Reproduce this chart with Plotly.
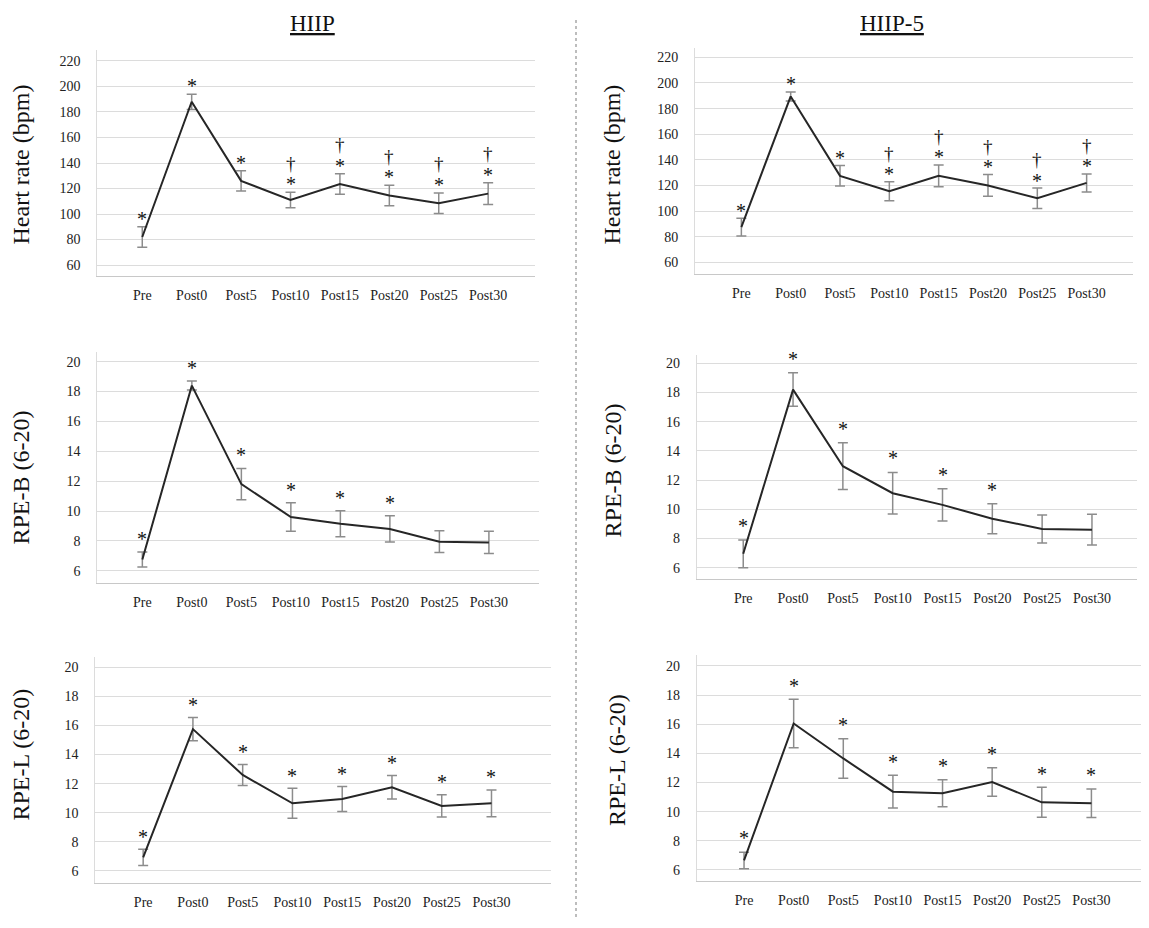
import plotly.graph_objects as go

# ---------------- data ----------------
categories = ["Pre", "Post0", "Post5", "Post10", "Post15", "Post20", "Post25", "Post30"]

hr_ticks = [60, 80, 100, 120, 140, 160, 180, 200, 220]
rpe_ticks = [6, 8, 10, 12, 14, 16, 18, 20]

hr_hiip_mean = [82, 188, 126, 111, 123.5, 114.5, 108.5, 116]
hr_hiip_sd = [8, 6, 8, 6, 8, 8, 8, 8.5]
hr_hiip5_mean = [87.5, 189.5, 127.5, 115.5, 127.5, 120, 110, 122]
hr_hiip5_sd = [7, 3.5, 8, 7.5, 8.5, 8.5, 8, 7]

rpeb_hiip_mean = [6.75, 18.4, 11.8, 9.6, 9.15, 8.8, 7.95, 7.9]
rpeb_hiip_sd = [0.5, 0.3, 1.05, 0.95, 0.87, 0.88, 0.73, 0.74]
rpeb_hiip5_mean = [6.95, 18.2, 12.95, 11.1, 10.3, 9.35, 8.65, 8.6]
rpeb_hiip5_sd = [0.95, 1.15, 1.6, 1.42, 1.1, 1.03, 0.96, 1.05]

rpel_hiip_mean = [6.93, 15.75, 12.6, 10.65, 10.95, 11.75, 10.47, 10.65]
rpel_hiip_sd = [0.56, 0.8, 0.72, 1.03, 0.86, 0.81, 0.77, 0.92]
rpel_hiip5_mean = [6.65, 16.05, 13.65, 11.37, 11.26, 12.03, 10.64, 10.58]
rpel_hiip5_sd = [0.57, 1.66, 1.36, 1.12, 0.92, 0.98, 1.03, 0.98]

# significance flags (* vs baseline, † second marker)
hr_star = [1, 1, 1, 1, 1, 1, 1, 1]
hr_dagger = [0, 0, 0, 1, 1, 1, 1, 1]
rpeb_star = [1, 1, 1, 1, 1, 1, 0, 0]
rpeb_dagger = [0, 0, 0, 0, 0, 0, 0, 0]
rpel_star = [1, 1, 1, 1, 1, 1, 1, 1]
rpel_dagger = [0, 0, 0, 0, 0, 0, 0, 0]

col_titles = ["HIIP", "HIIP-5"]
row_titles = ["Heart rate (bpm)", "RPE-B (6-20)", "RPE-L (6-20)"]

# ---------------- layout geometry (pixels in the page) ----------------
W, H = 1149, 928
OFF = 8  # page body margin
FONT = "Liberation Serif, Times New Roman, serif"


def fx(px):
    return (px - OFF) / W


def fy(py):
    return 1 - (py - OFF) / H


panels = [
    dict(mean=hr_hiip_mean, sd=hr_hiip_sd, star=hr_star, dag=hr_dagger, ticks=hr_ticks,
         px=(97.3, 534.6), py=(50, 276), yr=[51.4, 228.6], xr=[-0.91, 7.94],
         title=row_titles[0], tpos=(20.5, 165), soff=10),
    dict(mean=hr_hiip5_mean, sd=hr_hiip5_sd, star=hr_star, dag=hr_dagger, ticks=hr_ticks,
         px=(695, 1133), py=(48, 274), yr=[50.9, 227.3], xr=[-0.94, 7.94],
         title=row_titles[0], tpos=(611.6, 165), soff=9.5),
    dict(mean=rpeb_hiip_mean, sd=rpeb_hiip_sd, star=rpeb_star, dag=rpeb_dagger, ticks=rpe_ticks,
         px=(97.3, 539.4), py=(351.7, 583.3), yr=[5.16, 20.67], xr=[-0.91, 8.02],
         title=row_titles[1], tpos=(20.5, 478), soff=15),
    dict(mean=rpeb_hiip5_mean, sd=rpeb_hiip5_sd, star=rpeb_star, dag=rpeb_dagger, ticks=rpe_ticks,
         px=(696.9, 1136.8), py=(355, 579.3), yr=[5.2, 20.57], xr=[-0.93, 7.9],
         title=row_titles[1], tpos=(613.4, 470), soff=16),
    dict(mean=rpel_hiip_mean, sd=rpel_hiip_sd, star=rpel_star, dag=rpel_dagger, ticks=rpe_ticks,
         px=(95.4, 551.2), py=(656.7, 883.3), yr=[5.15, 20.73], xr=[-0.96, 8.2],
         title=row_titles[2], tpos=(20.5, 755), soff=14.5),
    dict(mean=rpel_hiip5_mean, sd=rpel_hiip5_sd, star=rpel_star, dag=rpel_dagger, ticks=rpe_ticks,
         px=(696.9, 1146), py=(655, 880.7), yr=[5.26, 20.75], xr=[-0.95, 8.1],
         title=row_titles[2], tpos=(617, 760), soff=15.7),
]

fig = go.Figure()
layout = {}
annotations = []
tickfont = dict(family=FONT, size=14, color="#222222")

for i, p in enumerate(panels, start=1):
    xa = "x" if i == 1 else f"x{i}"
    ya = "y" if i == 1 else f"y{i}"
    fig.add_trace(go.Scatter(
        x=categories, y=p["mean"],
        error_y=dict(type="data", array=p["sd"], visible=True,
                     color="#8c8c8c", thickness=1.5, width=5),
        mode="lines", line=dict(color="#262626", width=2),
        xaxis=xa, yaxis=ya, showlegend=False, hoverinfo="skip"))
    layout["xaxis" if i == 1 else f"xaxis{i}"] = dict(
        domain=[fx(p["px"][0]), fx(p["px"][1])], range=p["xr"], anchor=ya,
        type="category", categoryorder="array", categoryarray=categories,
        showgrid=False, showline=True, linecolor="#c8c8c8", linewidth=1.2,
        ticks="", tickfont=tickfont, ticklabelstandoff=6, zeroline=False, fixedrange=True)
    layout["yaxis" if i == 1 else f"yaxis{i}"] = dict(
        domain=[fy(p["py"][1]), fy(p["py"][0])], range=p["yr"], anchor=xa,
        tickvals=p["ticks"], showgrid=True, gridcolor="#dcdcdc", gridwidth=1,
        showline=True, linecolor="#dcdcdc", linewidth=1, ticks="",
        tickfont=tickfont, ticklabelstandoff=13, zeroline=False, fixedrange=True)
    # y-axis title
    annotations.append(dict(
        text=p["title"], xref="paper", yref="paper",
        x=fx(p["tpos"][0]), y=fy(p["tpos"][1]), textangle=-90,
        xanchor="center", yanchor="middle", showarrow=False,
        font=dict(family=FONT, size=24, color="#111111")))
    # significance markers
    for c, m, s, st, dg in zip(categories, p["mean"], p["sd"], p["star"], p["dag"]):
        if st:
            annotations.append(dict(
                text="*", x=c, y=m + s, xref=xa, yref=ya, showarrow=False,
                xanchor="center", yanchor="middle", yshift=p["soff"] - 2,
                font=dict(family=FONT, size=20, color="#111111")))
        if dg:
            annotations.append(dict(
                text="†", x=c, y=m + s, xref=xa, yref=ya, showarrow=False,
                xanchor="center", yanchor="middle", yshift=p["soff"] + 19,
                font=dict(family=FONT, size=19, color="#111111")))

# column titles
for t, xc in zip(col_titles, [312.6, 891.5]):
    annotations.append(dict(
        text=f"<u>{t}</u>", xref="paper", yref="paper", x=fx(xc), y=fy(23),
        xanchor="center", yanchor="middle", showarrow=False,
        font=dict(family=FONT, size=23, color="#111111")))

fig.update_layout(
    width=W, height=H, margin=dict(l=0, r=0, t=0, b=0),
    paper_bgcolor="white", plot_bgcolor="white",
    annotations=annotations,
    shapes=[dict(type="line", xref="paper", yref="paper",
                 x0=fx(576), x1=fx(576), y0=fy(20), y1=fy(917),
                 line=dict(color="#a8a8a8", width=1.5, dash="dot"))],
    **layout)

fig.write_html("out.html")
